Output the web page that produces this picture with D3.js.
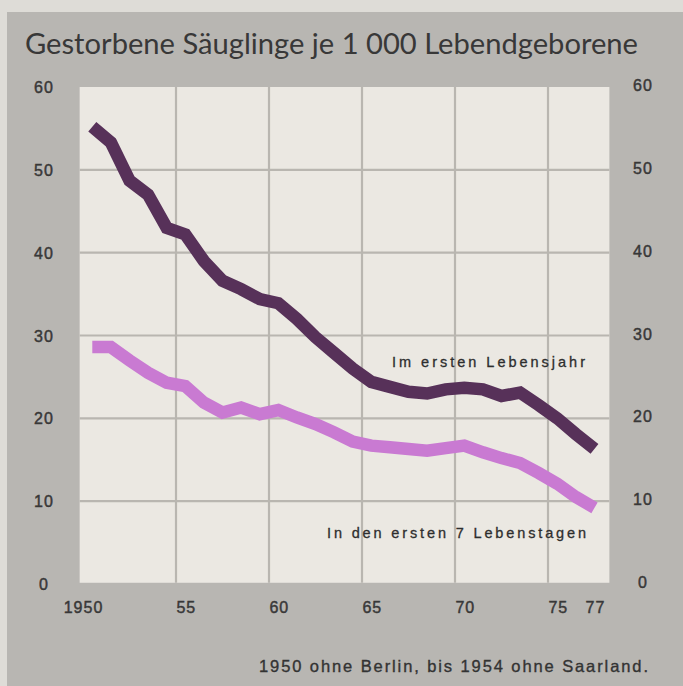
<!DOCTYPE html>
<html>
<head>
<meta charset="utf-8">
<script src="https://cdn.jsdelivr.net/npm/d3@7"></script>
<style>
  html, body { margin: 0; padding: 0; background: #dedcd7; }
  svg { display: block; }
</style>
</head>
<body>
<script>
// ---- Data ----
const years = [1950,1951,1952,1953,1954,1955,1956,1957,1958,1959,1960,1961,1962,1963,1964,1965,1966,1967,1968,1969,1970,1971,1972,1973,1974,1975,1976,1977];
const firstYear = [55.2,53.3,48.7,47.0,43.0,42.2,39.0,36.6,35.6,34.4,33.9,32.0,29.8,27.9,26.0,24.4,23.8,23.2,23.0,23.5,23.7,23.5,22.7,23.1,21.6,20.0,18.1,16.3];
const firstWeek = [28.6,28.6,27.0,25.5,24.3,23.9,21.9,20.7,21.3,20.5,21.0,20.1,19.3,18.3,17.2,16.7,16.5,16.3,16.1,16.4,16.7,15.9,15.2,14.6,13.4,12.1,10.5,9.2];
const yTicks = [0,10,20,30,40,50,60];
const xGridYears = [1955,1960,1965,1970,1975];
const xTickYears = [1950,1955,1960,1965,1970,1975,1977];
const xTickLabels = ["1950","55","60","65","70","75","77"];
const title = "Gestorbene Säuglinge je 1 000 Lebendgeborene";
const labelYear = "Im ersten Lebensjahr";
const labelWeek = "In den ersten 7 Lebenstagen";
const footnote = "1950 ohne Berlin, bis 1954 ohne Saarland.";

const W = 683, H = 686;
const svg = d3.select("body").append("svg").attr("width", W).attr("height", H);

// background
svg.append("rect").attr("x", 0).attr("y", 0).attr("width", W).attr("height", H).attr("fill", "#dedcd7");
svg.append("rect").attr("x", 7).attr("y", 12).attr("width", W - 7).attr("height", H - 12).attr("fill", "#b8b6b2");

// scales (year value = start of year; data points drawn at mid-year)
const x = d3.scaleLinear().domain([1955, 1975]).range([176, 548]);
const y = d3.scaleLinear().domain([0, 60]).range([584, 87]);

const plotL = x(1949.82), plotR = x(1978.3), plotT = y(60), plotB = y(0.15);
svg.append("rect").attr("x", plotL).attr("y", plotT).attr("width", plotR - plotL).attr("height", plotB - plotT).attr("fill", "#ebe8e2");

// grid
const grid = svg.append("g").attr("stroke", "#b9b6b0").attr("stroke-width", 2.2);
grid.selectAll("line.v").data(xGridYears).join("line")
  .attr("x1", d => x(d)).attr("x2", d => x(d)).attr("y1", plotT).attr("y2", plotB);
grid.selectAll("line.h").data(yTicks.filter(d => d > 0 && d < 60)).join("line")
  .attr("x1", plotL).attr("x2", plotR).attr("y1", d => y(d)).attr("y2", d => y(d));

// lines
const line = d3.line().x((d, i) => x(years[i] + 0.5)).y(d => y(d));
svg.append("path").datum(firstWeek).attr("d", line)
  .attr("fill", "none").attr("stroke", "#c97ad2").attr("stroke-width", 12.5)
  .attr("stroke-linejoin", "miter").attr("stroke-linecap", "butt");
svg.append("path").datum(firstYear).attr("d", line)
  .attr("fill", "none").attr("stroke", "#573159").attr("stroke-width", 12.5)
  .attr("stroke-linejoin", "miter").attr("stroke-linecap", "butt");

// y tick labels
const tickFont = "'Liberation Sans', Arial, sans-serif";
const yl = svg.append("g").attr("font-family", tickFont).attr("font-size", 16).attr("fill", "#383838")
  .attr("stroke", "#383838").attr("stroke-width", 0.45)
  .attr("text-anchor", "middle").attr("letter-spacing", 1);
yl.selectAll("text.l").data(yTicks).join("text")
  .attr("x", 44).attr("y", d => y(d) + 6).text(d => d);
yl.selectAll("text.r").data(yTicks).join("text")
  .attr("x", 643).attr("y", d => y(d) + 4).text(d => d);

// x tick labels
const xl = svg.append("g").attr("font-family", tickFont).attr("font-size", 16).attr("fill", "#383838")
  .attr("stroke", "#383838").attr("stroke-width", 0.45)
  .attr("letter-spacing", 1);
xl.selectAll("text").data(xTickYears).join("text")
  .attr("x", (d, i) => i === 0 ? x(d + 0.5) + 11 : x(d + 0.5) + 1)
  .attr("text-anchor", (d, i) => i === 0 ? "end" : "middle")
  .attr("y", 613)
  .text((d, i) => xTickLabels[i]);

// title
svg.append("text").attr("x", 25).attr("y", 54)
  .attr("font-family", "Lato, 'Open Sans', sans-serif").attr("font-size", 28).attr("fill", "#383838")
  .attr("textLength", 613).attr("lengthAdjust", "spacingAndGlyphs")
  .text(title);

// series labels
svg.append("text").attr("x", 392).attr("y", 367)
  .attr("font-family", tickFont).attr("font-size", 14.5).attr("fill", "#2e2e2e")
  .attr("stroke", "#2e2e2e").attr("stroke-width", 0.3)
  .attr("textLength", 193).attr("lengthAdjust", "spacing")
  .text(labelYear);
svg.append("text").attr("x", 327).attr("y", 538)
  .attr("font-family", tickFont).attr("font-size", 14.5).attr("fill", "#2e2e2e")
  .attr("stroke", "#2e2e2e").attr("stroke-width", 0.3)
  .attr("textLength", 259).attr("lengthAdjust", "spacing")
  .text(labelWeek);

// footnote
svg.append("text").attr("x", 259).attr("y", 672)
  .attr("font-family", tickFont).attr("font-size", 16.5).attr("fill", "#333")
  .attr("stroke", "#333").attr("stroke-width", 0.35)
  .attr("textLength", 389).attr("lengthAdjust", "spacing")
  .text(footnote);
</script>
</body>
</html>
